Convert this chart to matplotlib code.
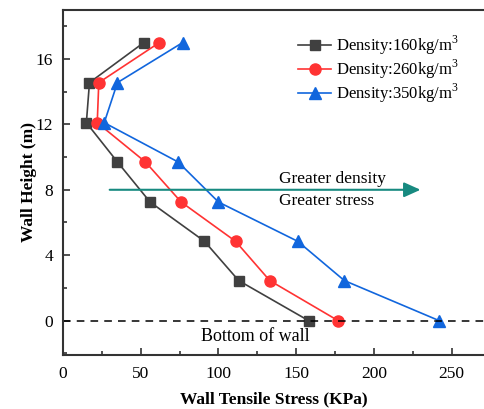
import matplotlib
matplotlib.use("Agg")
import matplotlib.pyplot as plt
from matplotlib.ticker import MultipleLocator

plt.rcParams['font.family'] = ['Liberation Serif', 'DejaVu Serif']
plt.rcParams['mathtext.fontset'] = 'custom'
plt.rcParams['mathtext.rm'] = 'Liberation Serif'

# wall height (m) and tensile stress (KPa) per density
height = [17.0, 14.55, 12.1, 9.7, 7.25, 4.85, 2.45, 0.0]
stress_160 = [52, 17, 15, 35, 56, 91, 113, 158]
stress_260 = [62, 23, 22, 53, 76, 111, 133, 177]
stress_350 = [77, 35, 26.5, 74, 100, 151, 181, 242]
labels = ["Density:160kg/m$^3$", "Density:260kg/m$^3$", "Density:350kg/m$^3$"]

fig = plt.figure(figsize=(4.85, 4.09), dpi=100)
ax = fig.add_axes([0.130, 0.132, 0.870, 0.844])

ax.plot(stress_160, height, color="#404040", marker="s", ms=7, lw=1.2, label=labels[0])
ax.plot(stress_260, height, color="#ff3333", marker="o", ms=8, lw=1.2, label=labels[1])
ax.plot(stress_350, height, color="#1166dd", marker="^", ms=9, lw=1.2, label=labels[2])

# bottom of wall
ax.axhline(0, color="black", ls=(0, (5, 4)), lw=1.1)
ax.text(124, -0.95, "Bottom of wall", fontsize=13, ha="center", va="center")

# trend arrow
ax.annotate("", xy=(230, 8), xytext=(30, 8),
            arrowprops=dict(arrowstyle="-|>,head_length=1.0,head_width=0.45",
                            color="#178a80", lw=1.5, shrinkA=0, shrinkB=0))
ax.text(139, 8.15, "Greater density", fontsize=12.5, ha="left", va="bottom")
ax.text(139, 7.8, "Greater stress", fontsize=12.5, ha="left", va="top")

ax.set_xlim(0, 271.5)
ax.set_ylim(-2.1, 19)
ax.xaxis.set_major_locator(MultipleLocator(50))
ax.xaxis.set_minor_locator(MultipleLocator(25))
ax.yaxis.set_major_locator(MultipleLocator(4))
ax.yaxis.set_minor_locator(MultipleLocator(2))
ax.tick_params(which="both", direction="in", labelsize=12.5, width=1.2, color="#333333")
ax.tick_params(which="major", length=5)
ax.tick_params(which="minor", length=3)
ax.tick_params(axis="x", pad=8)
ax.tick_params(axis="y", pad=7)
ax.spines["right"].set_visible(False)
for s in ("left", "bottom", "top"):
    ax.spines[s].set_linewidth(1.5)
    ax.spines[s].set_color("#333333")

ax.set_xlabel("Wall Tensile Stress (KPa)", fontsize=12.5, fontweight="bold", labelpad=7)
ax.set_ylabel("Wall Height (m)", fontsize=12.5, fontweight="bold", labelpad=-1)

ax.legend(loc="upper right", bbox_to_anchor=(0.975, 0.975), frameon=False, fontsize=12,
          handlelength=2.0, handletextpad=0.3, labelspacing=0.05)

fig.savefig("out.png", dpi=100)
